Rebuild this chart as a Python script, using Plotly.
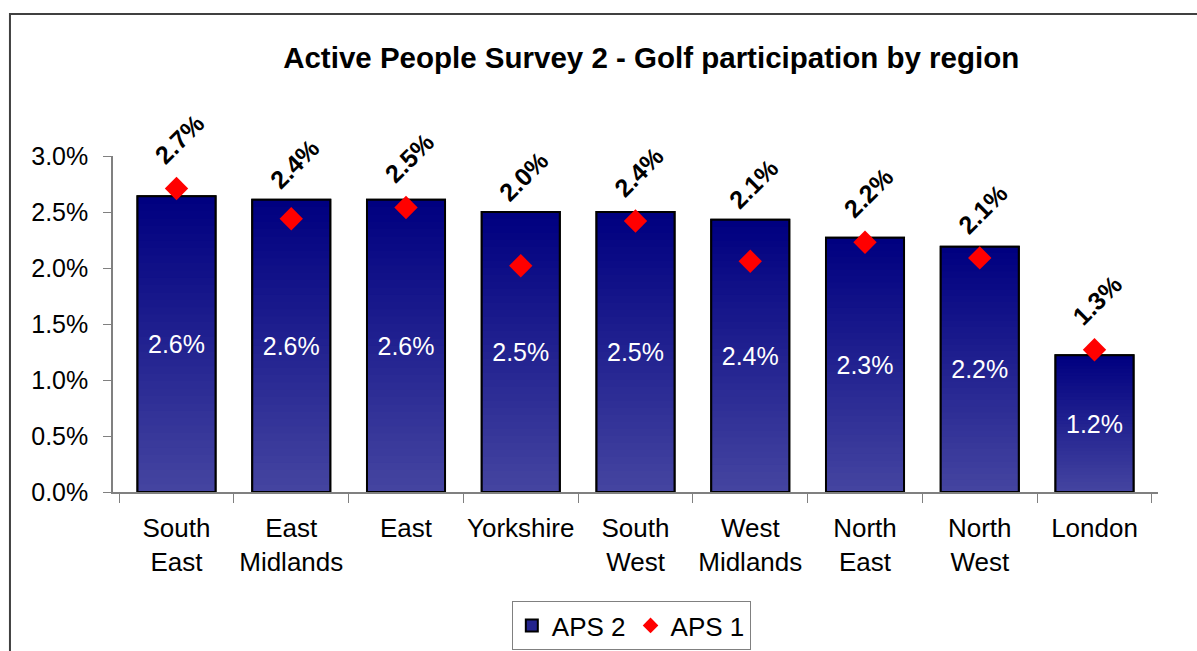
import plotly.graph_objects as go

regions = ["South<br>East", "East<br>Midlands", "East", "Yorkshire", "South<br>West",
           "West<br>Midlands", "North<br>East", "North<br>West", "London"]
aps2 = [2.64, 2.61, 2.61, 2.50, 2.50, 2.43, 2.27, 2.19, 1.22]
aps1 = [2.71, 2.44, 2.54, 2.02, 2.42, 2.06, 2.23, 2.09, 1.27]
y_ticks = [0.0, 0.5, 1.0, 1.5, 2.0, 2.5, 3.0]
y_ticktext = [f"{v:.1f}%" for v in y_ticks]

FONT = "Liberation Sans, Arial, sans-serif"
TOP = (0, 0, 128)
BOTTOM = (68, 68, 160)
BAR_W = 0.68
N = 40
Y_MAX = 3.0

fig = go.Figure()

# base bar (legend carrier)
fig.add_trace(go.Bar(
    x=regions, y=aps2, width=BAR_W, name="APS 2",
    marker=dict(color="rgb(36,36,142)", line=dict(color="black", width=2)),
    hoverinfo="skip", legendgroup="aps2", showlegend=True,
))

# vertical gradient, per bar: each layer runs from a rising base to the bar top
for i in range(N):
    t = i / (N - 1)
    c = tuple(round(BOTTOM[k] + (TOP[k] - BOTTOM[k]) * t) for k in range(3))
    fig.add_trace(go.Bar(
        x=regions, y=[v * (1 - i / N) for v in aps2], base=[v * i / N for v in aps2],
        width=BAR_W, marker=dict(color=f"rgb{c}", line=dict(width=0)),
        hoverinfo="skip", showlegend=False, legendgroup="aps2",
    ))

# outline + labels
fig.add_trace(go.Bar(
    x=regions, y=aps2, width=BAR_W,
    marker=dict(color="rgba(0,0,0,0)", line=dict(color="black", width=2)),
    text=aps2, texttemplate="%{y:.1f}%", textposition="inside",
    insidetextanchor="middle", textangle=0,
    textfont=dict(color="white", size=25, family=FONT),
    hoverinfo="skip", showlegend=False, legendgroup="aps2",
))

fig.add_trace(go.Scatter(
    x=regions, y=aps1, mode="markers", name="APS 1",
    marker=dict(symbol="diamond", size=18, color="#ff0000"),
))

for r, v1, v2 in zip(regions, aps1, aps2):
    fig.add_annotation(
        x=r, y=max(v1 + 0.44, v2 + 0.32) / Y_MAX, xref="x", yref="paper",
        text=f"<b>{v1:.1f}%</b>", textangle=-45, showarrow=False,
        xanchor="center", yanchor="middle", xshift=3,
        font=dict(family=FONT, size=25, color="black"),
    )

# outer chart frame
fig.add_shape(type="rect", xref="paper", yref="paper",
              x0=-0.0986, x1=1.2, y0=-0.7, y1=1.4226,
              line=dict(color="#404040", width=2), layer="below")

fig.update_layout(
    width=1197, height=651,
    margin=dict(l=113, r=39, t=156, b=159, autoexpand=False),
    paper_bgcolor="white", plot_bgcolor="white",
    barmode="overlay",
    font=dict(family=FONT, size=25, color="black"),
    title=dict(text="<b>Active People Survey 2 - Golf participation by region</b>",
               font=dict(family=FONT, size=29.5, color="black"),
               x=0.515, xref="paper", xanchor="center",
               y=1 - 58 / 651, yref="container", yanchor="middle"),
    legend=dict(orientation="h", x=0.496, xanchor="center", xref="paper",
                y=1 - 601 / 651, yanchor="top", yref="container",
                bordercolor="#808080", borderwidth=1, bgcolor="white",
                font=dict(family=FONT, size=26, color="black"),
                itemsizing="constant", tracegroupgap=0),
    xaxis=dict(type="category", tickson="boundaries", ticks="outside", ticklen=9,
               tickcolor="#808080", showline=True, linecolor="#808080", linewidth=1.5,
               showgrid=False, tickfont=dict(family=FONT, size=26, color="black"),
               tickangle=0, ticklabelstandoff=12, automargin=False),
    yaxis=dict(range=[0, Y_MAX], tickvals=y_ticks, ticktext=y_ticktext,
               ticks="outside", ticklen=8, tickcolor="#808080", showline=True,
               linecolor="#808080", linewidth=1.5, showgrid=False, zeroline=False,
               tickfont=dict(family=FONT, size=25, color="black"),
               ticklabelstandoff=10, automargin=False),
)

fig.write_html("out.html")
